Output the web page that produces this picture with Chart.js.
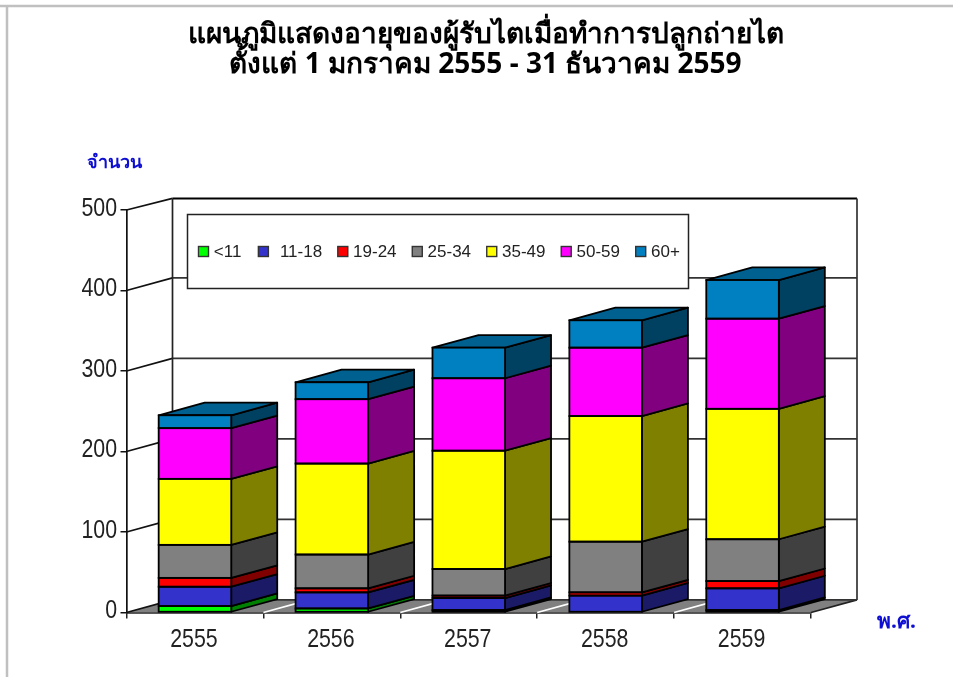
<!DOCTYPE html>
<html><head><meta charset="utf-8">
<style>html,body{margin:0;padding:0;background:#fff}canvas{display:block}</style>
<script src="https://cdn.jsdelivr.net/npm/chart.js@4"></script>
</head><body><canvas id="c" width="953" height="677"></canvas>
<script>
const titleLines = ['แผนภูมิแสดงอายุของผู้รับไตเมื่อทำการปลูกถ่ายไต','ตั้งแต่ 1 มกราคม 2555 - 31 ธันวาคม 2559'];
const yAxisLabel = 'จำนวน';
const xAxisLabel = 'พ.ศ.';
const years = ['2555','2556','2557','2558','2559'];
const seriesNames = ['<11','11-18','19-24','25-34','35-49','50-59','60+'];
const under11 = [8,5,3,0,3];
const age11to18 = [24,20,15,21,27];
const age19to24 = [11,5,3,4,9];
const age25to34 = [41,42,33,63,52];
const age35to49 = [82,113,147,156,162];
const age50to59 = [63,80,90,85,112];
const age60plus = [16,21,38,34,48];
const seriesValues = [under11,age11to18,age19to24,age25to34,age35to49,age50to59,age60plus];
const frontColors = ['#00ff00','#3333cc','#ff0000','#808080','#ffff00','#ff00ff','#0080c0'];
const sideColors  = ['#008000','#1a1a66','#800000','#404040','#808000','#800080','#004060'];
const topColors   = ['#00bf00','#262699','#bf0000','#606060','#bfbf00','#bf00bf','#006090'];

const DX = 46, DY = 12.6;
const poly = (ctx, pts, fill, stroke, lw) => {
  ctx.beginPath();
  pts.forEach((p,i)=> i?ctx.lineTo(p[0],p[1]):ctx.moveTo(p[0],p[1]));
  ctx.closePath();
  if (fill) { ctx.fillStyle = fill; ctx.fill(); }
  if (stroke) { ctx.strokeStyle = stroke; ctx.lineWidth = lw; ctx.lineJoin='round'; ctx.stroke(); }
};
const seg = (ctx,x1,y1,x2,y2,color,lw) => {
  ctx.beginPath(); ctx.moveTo(x1,y1); ctx.lineTo(x2,y2);
  ctx.strokeStyle=color; ctx.lineWidth=lw; ctx.stroke();
};
const squeezed = (ctx,text,x,y,align) => {
  ctx.save();
  ctx.translate(x,y); ctx.scale(0.82,1);
  ctx.textAlign=align; ctx.textBaseline='middle';
  ctx.fillText(text,0,0);
  ctx.restore();
};
const scene = {
  id:'scene',
  beforeDraw(chart){
    const ctx = chart.ctx;
    ctx.save();
    seg(ctx,0,6,953,6,'#c0c0c0',2.5);
    seg(ctx,7,6,7,677,'#c0c0c0',2.5);
    ctx.restore();
  },
  beforeDatasetsDraw(chart){
    const ctx = chart.ctx, x = chart.scales.x, y = chart.scales.y;
    const L = x.left, R = x.right, B = y.getPixelForValue(0), T = y.getPixelForValue(500);
    const topBack = T-DY+1;
    ctx.save();
    poly(ctx,[[L,B],[L+DX,B-DY],[R+DX,B-DY],[R,B]],'#808080',null,0);
    seg(ctx,L,B,L+DX,B-DY,'#111',1.7);
    seg(ctx,R,B,R+DX,B-DY,'#222',1.7);
    seg(ctx,L+DX,B-DY,R+DX,B-DY,'#333',1.7);
    y.ticks.forEach(t=>{
      if(t.value===0) return;
      const py = y.getPixelForValue(t.value);
      if(t.value===500){
        seg(ctx,L,py,L+DX,topBack,'#111',1.7);
        seg(ctx,L+DX,topBack,R+DX,topBack,'#000',2);
      } else {
        seg(ctx,L,py,L+DX,py-DY,'#111',1.7);
        seg(ctx,L+DX,py-DY,R+DX,py-DY,'#333',1.7);
      }
    });
    seg(ctx,L+DX,topBack,L+DX,B-DY,'#222',1.7);
    seg(ctx,R+DX,topBack,R+DX,B-DY,'#333',1.7);
    const step = x.getPixelForValue(1)-x.getPixelForValue(0);
    for(let i=1;i<years.length;i++){
      const px = x.getPixelForValue(i)-step/2;
      seg(ctx,px,B,px+DX,B-DY,'#fff',1.7);
    }
    chart.data.datasets.forEach((ds,k)=>{
      chart.getDatasetMeta(k).data.forEach((bar,i)=>{
        if(!ds.data[i]) return;
        const r = bar.x+bar.width/2, top = bar.y, base = bar.base;
        poly(ctx,[[r,base],[r+DX,base-DY],[r+DX,top-DY],[r,top]],sideColors[k],'#000',1.8);
      });
    });
    const lastIdx = chart.data.datasets.length-1;
    chart.getDatasetMeta(lastIdx).data.forEach(bar=>{
      const l = bar.x-bar.width/2, r = bar.x+bar.width/2, top = bar.y;
      poly(ctx,[[l,top],[l+DX,top-DY],[r+DX,top-DY],[r,top]],topColors[lastIdx],'#000',1.8);
    });
    ctx.restore();
  },
  afterDatasetsDraw(chart){
    const ctx = chart.ctx;
    ctx.save();
    ctx.strokeStyle='#000'; ctx.lineWidth=1.8;
    chart.data.datasets.forEach((ds,k)=>{
      chart.getDatasetMeta(k).data.forEach((bar,i)=>{
        if(!ds.data[i]) return;
        ctx.strokeRect(bar.x-bar.width/2,bar.y,bar.width,bar.base-bar.y);
      });
    });
    ctx.restore();
  },
  afterDraw(chart){
    const ctx = chart.ctx, x = chart.scales.x, y = chart.scales.y;
    ctx.save();
    ctx.font='26px "Liberation Sans", Arial, sans-serif';
    ctx.fillStyle='#222';
    x.ticks.forEach((t,i)=> squeezed(ctx,t.label,x.getPixelForTick(i)-1,640,'center'));
    y.ticks.forEach(t=> squeezed(ctx,t.label,117,y.getPixelForValue(t.value)-1.5,'right'));
    const bx=187.5, by=214.5, bw=501, bh=74;
    ctx.fillStyle='#fff'; ctx.fillRect(bx,by,bw,bh);
    ctx.strokeStyle='#222'; ctx.lineWidth=1.5; ctx.strokeRect(bx,by,bw,bh);
    ctx.font='17px "Liberation Sans", Arial, sans-serif';
    ctx.textBaseline='middle'; ctx.textAlign='left';
    let lx = 198.5;
    seriesNames.forEach((n,k)=>{
      ctx.fillStyle=frontColors[k];
      ctx.fillRect(lx,246.5,10,10);
      ctx.strokeStyle='#333'; ctx.lineWidth=1.4; ctx.strokeRect(lx,246.5,10,10);
      const tx = lx + (k===1?21.5:15.3);
      ctx.fillStyle='#222';
      ctx.fillText(n,tx,252);
      lx = tx + ctx.measureText(n).width + (k===0?17:15.7);
    });
    ctx.fillStyle='#0f0fd2';
    ctx.font='bold 18px Tahoma, "Noto Sans", "DejaVu Sans", sans-serif';
    ctx.fillText(yAxisLabel,87,163);
    ctx.font='bold 21px Tahoma, "Noto Sans", "DejaVu Sans", sans-serif';
    ctx.fillText(xAxisLabel,877,622);
    ctx.restore();
  }
};
const datasets = seriesNames.map((n,k)=>({
  label:n, data:seriesValues[k], backgroundColor:frontColors[k],
  borderWidth:0, barPercentage:0.53, categoryPercentage:1, xAxisID:'x', yAxisID:'y'
}));
new Chart(document.getElementById('c'),{
  type:'bar',
  data:{labels:years,datasets},
  plugins:[scene],
  options:{
    responsive:false, animation:false,
    layout:{padding:{left:18,top:20,right:0,bottom:0}},
    plugins:{
      legend:{display:false},
      tooltip:{enabled:false},
      title:{display:true,text:titleLines,align:'center',color:'#000',
        font:{family:'Tahoma,"Noto Sans","DejaVu Sans",sans-serif',size:28,weight:'bold',lineHeight:1.0714},
        padding:{top:0,bottom:130}}
    },
    scales:{
      x:{stacked:true,position:'bottom',offset:true,
        afterFit(s){s.height=64.5;},
        border:{display:true,color:'#222',width:1.7},
        grid:{offset:true,drawOnChartArea:false,drawTicks:true,tickLength:6,color:'#222',lineWidth:1.5},
        ticks:{display:false,maxRotation:0}},
      y:{stacked:true,position:'left',min:0,max:500,
        afterFit(s){s.width=108.5;},
        border:{display:true,color:'#111',width:1.7},
        grid:{drawOnChartArea:false,drawTicks:true,tickLength:6,color:'#111',lineWidth:1.5},
        ticks:{display:false,stepSize:100}},
      rightGutter:{axis:'y',position:'right',
        afterFit(s){s.width=142;},
        border:{display:false},grid:{display:false},ticks:{display:false}}
    }
  }
});
</script></body></html>
